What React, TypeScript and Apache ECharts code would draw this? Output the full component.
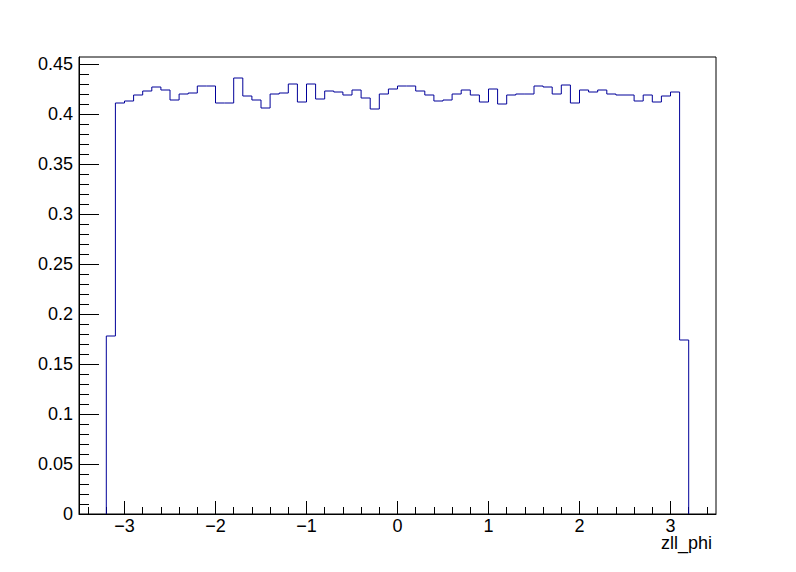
import React, { useEffect, useRef } from "react";
import * as echarts from "echarts";

// Histogram zll_phi: 64 bins from -3.2 to 3.2
const binLow = -3.2;
const binWidth = 0.1;
const binValues = [
  0.178, 0.411, 0.413, 0.419, 0.423, 0.427, 0.424, 0.414, 0.420, 0.421,
  0.428, 0.428, 0.411, 0.411, 0.436, 0.418, 0.414, 0.406, 0.420, 0.421,
  0.430, 0.412, 0.430, 0.415, 0.423, 0.422, 0.419, 0.424, 0.416, 0.405,
  0.420, 0.425, 0.428, 0.428, 0.423, 0.419, 0.413, 0.414, 0.420, 0.424,
  0.419, 0.412, 0.425, 0.410, 0.419, 0.420, 0.420, 0.428, 0.427, 0.420,
  0.429, 0.411, 0.424, 0.422, 0.424, 0.420, 0.419, 0.419, 0.413, 0.419,
  0.412, 0.418, 0.422, 0.174,
];

const xMin = -3.5;
const xMax = 3.5;
const yMin = 0;
const yMax = 0.457;
const xMajorTicks = [-3, -2, -1, 0, 1, 2, 3];
const yMajorTicks = [0, 0.05, 0.1, 0.15, 0.2, 0.25, 0.3, 0.35, 0.4, 0.45];
const xTitle = "zll_phi";

const FONT = '"Liberation Sans", Arial, Helvetica, sans-serif';

export default function App() {
  const ref = useRef<HTMLDivElement>(null);

  useEffect(() => {
    document.body.style.margin = "0";
    if (!ref.current) return;
    const chart = echarts.init(ref.current, null, { renderer: "svg" });

    const xMinorTicks: number[] = [];
    for (let k = -17; k <= 17; k++) {
      if (k % 5 !== 0) xMinorTicks.push(Math.round(k * 0.2 * 10) / 10);
    }
    const yMinorTicks: number[] = [];
    for (let k = 1; k < 45; k++) {
      if (k % 5 !== 0) yMinorTicks.push(k / 100);
    }

    // build step outline from bins
    const pts: number[][] = [];
    const n = binValues.length;
    pts.push([binLow, 0]);
    for (let i = 0; i < n; i++) {
      const lo = binLow + i * binWidth;
      const hi = binLow + (i + 1) * binWidth;
      pts.push([lo, binValues[i]]);
      pts.push([hi, binValues[i]]);
    }
    pts.push([binLow + n * binWidth, 0]);

    const fmtX = (v: number) => {
      const r = Math.round(v);
      return r < 0 ? "\u2212" + Math.abs(r) : String(r);
    };
    const fmtY = (v: number) => String(Math.round(v * 100) / 100);

    const labelStyle = {
      color: "#000",
      fontSize: 18,
      fontFamily: FONT,
    };

    chart.setOption({
      animation: false,
      backgroundColor: "#fff",
      grid: {
        left: 79,
        right: 80,
        top: 57,
        bottom: 58,
        show: true,
        borderColor: "#000",
        borderWidth: 1,
        backgroundColor: "transparent",
      },
      xAxis: [
        {
          type: "value",
          min: xMin,
          max: xMax,
          position: "bottom",
          axisLine: { show: true, onZero: false, lineStyle: { color: "#000", width: 1 } },
          axisTick: {
            show: true,
            inside: true,
            length: 13,
            customValues: xMajorTicks,
            lineStyle: { color: "#000", width: 1 },
          },
          axisLabel: {
            show: true,
            customValues: xMajorTicks,
            margin: 3,
            formatter: fmtX,
            ...labelStyle,
          },
          splitLine: { show: false },
        },
        {
          type: "value",
          min: xMin,
          max: xMax,
          position: "bottom",
          offset: 0,
          axisLine: { show: false, onZero: false },
          axisTick: {
            show: true,
            inside: true,
            length: 7,
            customValues: xMinorTicks,
            lineStyle: { color: "#000", width: 1 },
          },
          axisLabel: { show: false },
          splitLine: { show: false },
        },
      ],
      yAxis: [
        {
          type: "value",
          min: yMin,
          max: yMax,
          position: "left",
          axisLine: { show: true, onZero: false, lineStyle: { color: "#000", width: 1 } },
          axisTick: {
            show: true,
            inside: true,
            length: 20,
            customValues: yMajorTicks,
            lineStyle: { color: "#000", width: 1 },
          },
          axisLabel: {
            show: true,
            customValues: yMajorTicks,
            margin: 6,
            formatter: fmtY,
            ...labelStyle,
          },
          splitLine: { show: false },
        },
        {
          type: "value",
          min: yMin,
          max: yMax,
          position: "left",
          offset: 0,
          axisLine: { show: false, onZero: false },
          axisTick: {
            show: true,
            inside: true,
            length: 10,
            customValues: yMinorTicks,
            lineStyle: { color: "#000", width: 1 },
          },
          axisLabel: { show: false },
          splitLine: { show: false },
        },
      ],
      graphic: [
        {
          type: "text",
          right: 84,
          top: 534,
          style: {
            text: xTitle,
            fill: "#000",
            font: `18px ${FONT}`,
          },
        },
      ],
      series: [
        {
          type: "line",
          xAxisIndex: 0,
          yAxisIndex: 0,
          data: pts,
          showSymbol: false,
          symbol: "none",
          silent: true,
          lineStyle: { color: "#000099", width: 1 },
        },
      ],
    });

    return () => chart.dispose();
  }, []);

  return <div ref={ref} style={{ width: 796, height: 572 }} />;
}
